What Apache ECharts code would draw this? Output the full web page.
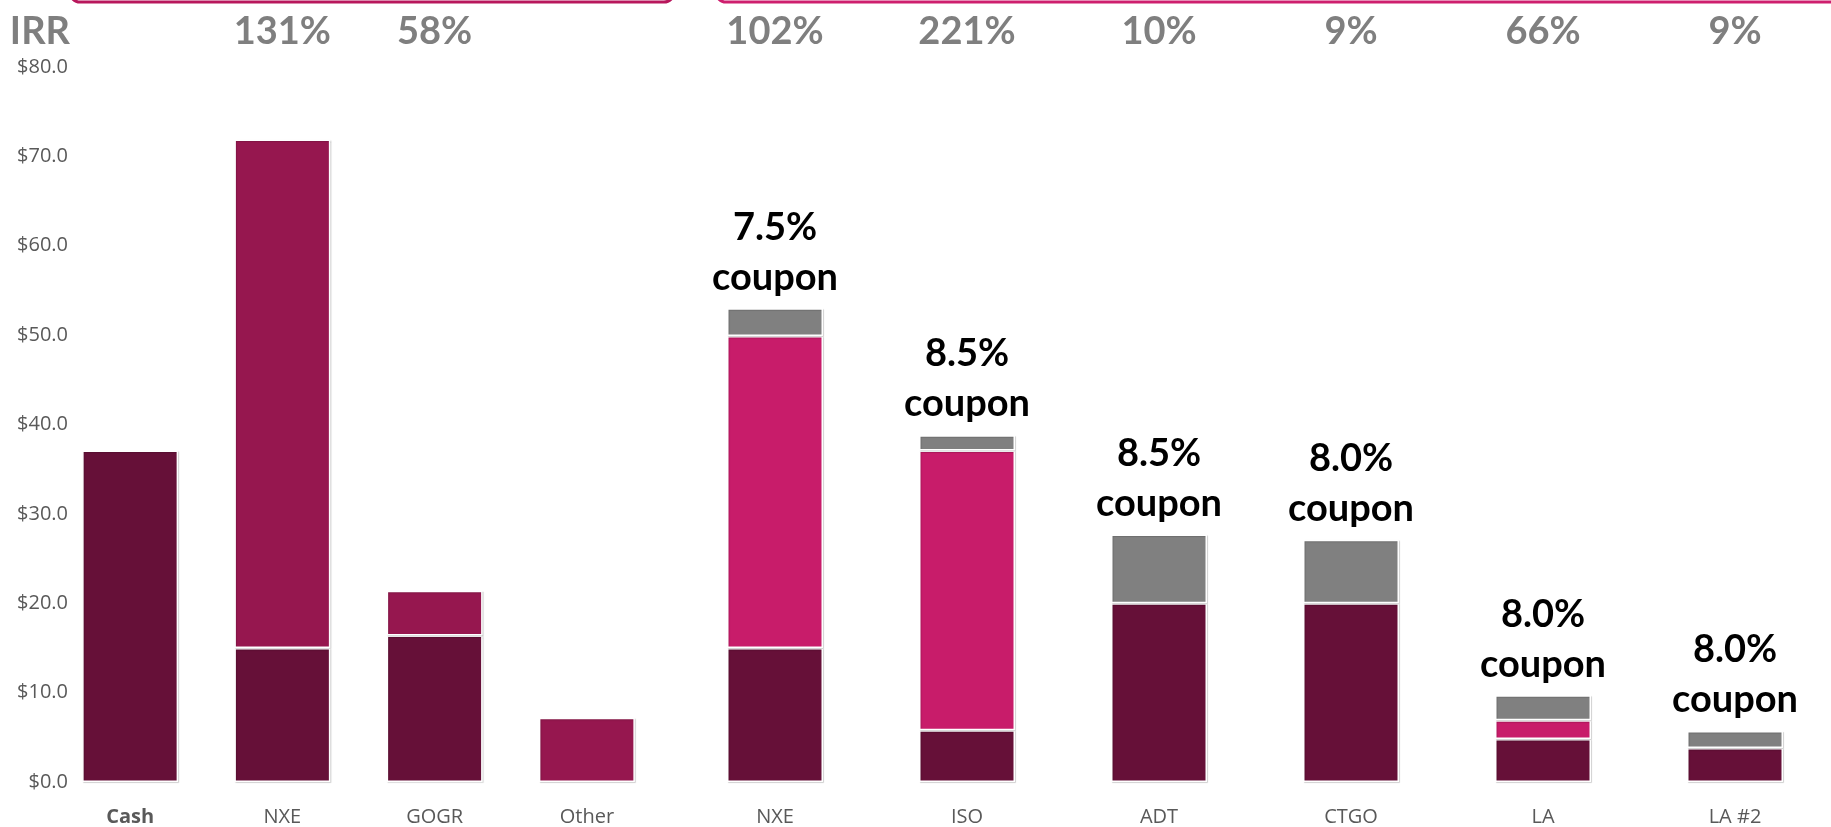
<!DOCTYPE html>
<html>
<head>
<meta charset="utf-8">
<script src="https://cdn.jsdelivr.net/npm/echarts@6/dist/echarts.min.js"></script>
<style>
html,body{margin:0;padding:0;background:#fff;}
#chart-panel{width:1831px;height:827px;}
</style>
</head>
<body>
<div id="chart-panel"></div>
<script>
// left block: current holdings
var leftNames = ['Cash', 'NXE', 'GOGR', 'Other'];
var leftIrr = ['', '131%', '58%', ''];
var leftBase = [37.1, 15.0, 16.4, '-'];
var leftGain = ['-', 56.9, 5.0, 7.2];

// right block: new deals
var rightNames = ['NXE', 'ISO', 'ADT', 'CTGO', 'LA', 'LA #2'];
var rightIrr = ['102%', '221%', '10%', '9%', '66%', '9%'];
var rightBase = [15.0, 5.8, 20.0, 20.0, 4.8, 3.8];
var rightEquity = [34.9, 31.3, '-', '-', 2.1, '-'];
var rightCoupon = [3.1, 1.7, 7.7, 7.1, 2.8, 1.9];
var coupons = ['7.5%', '8.5%', '8.5%', '8.0%', '8.0%', '8.0%'];

var yTicks = [0, 10, 20, 30, 40, 50, 60, 70, 80];

var dark = '#661038', mid = '#96174F', pink = '#C81C6A', grey = '#808080';
var axisFont = '"Open Sans", sans-serif';
var boldFont = 'Lato, "Open Sans", sans-serif';

var myChart = echarts.init(document.getElementById('chart-panel'));

var barStyle = function (c) {
	return {
		color: c,
		borderColor: '#fff',
		borderWidth: 1.5,
		shadowColor: 'rgba(0,0,0,0.15)',
		shadowBlur: 1,
		shadowOffsetX: 1,
		shadowOffsetY: 1
	};
};

var bottomAxis = function (names, grid) {
	return {
		type: 'category',
		gridIndex: grid,
		data: names,
		axisLine: {show: false},
		axisTick: {show: false},
		axisLabel: {
			interval: 0,
			margin: 25,
			fontFamily: axisFont,
			fontSize: 20,
			color: '#595959',
			formatter: function (v) {
				return v == 'Cash' ? '{b|' + v + '}' : v;
			},
			rich: {
				b: {fontFamily: axisFont, fontSize: 20, fontWeight: 'bold', color: '#595959'}
			}
		}
	};
};

var topAxis = function (names, irr, grid) {
	return {
		type: 'category',
		gridIndex: grid,
		position: 'top',
		data: names,
		axisLine: {show: false},
		axisTick: {show: false},
		axisLabel: {
			interval: 0,
			margin: 16,
			fontFamily: boldFont,
			fontSize: 38,
			fontWeight: 'bold',
			color: '#7F7F7F',
			formatter: function (v, i) {
				return irr[i];
			}
		}
	};
};

option = {
	backgroundColor: '#fff',
	animation: false,
	grid: [
		{left: 54, top: 67, width: 609, height: 716},
		{left: 679, top: 67, width: 1186, height: 716}
	],
	graphic: [
		{
			type: 'rect',
			shape: {x: 70, y: -40, width: 604, height: 42, r: 10},
			style: {fill: 'none', stroke: '#B8175C', lineWidth: 3}
		},
		{
			type: 'rect',
			shape: {x: 716, y: -40, width: 1200, height: 42, r: 10},
			style: {fill: 'none', stroke: '#CE1F6E', lineWidth: 3}
		}
	],
	xAxis: [
		bottomAxis(leftNames, 0),
		topAxis(leftNames, leftIrr, 0),
		bottomAxis(rightNames, 1),
		topAxis(rightNames, rightIrr, 1)
	],
	yAxis: [
		{
			type: 'value',
			gridIndex: 0,
			min: yTicks[0],
			max: yTicks[yTicks.length - 1],
			interval: 10,
			offset: -14,
			name: 'IRR',
			nameLocation: 'end',
			nameGap: 16,
			nameTextStyle: {
				fontFamily: boldFont,
				fontSize: 38,
				fontWeight: 'bold',
				color: '#7F7F7F',
				align: 'right',
				padding: [0, -2, 0, 0]
			},
			splitLine: {show: false},
			axisLine: {show: false},
			axisTick: {show: false},
			axisLabel: {
				margin: 0,
				fontFamily: axisFont,
				fontSize: 20,
				color: '#595959',
				formatter: function (v) {
					return '$' + v.toFixed(1);
				}
			}
		},
		{
			type: 'value',
			gridIndex: 1,
			min: yTicks[0],
			max: yTicks[yTicks.length - 1],
			interval: 10,
			show: false,
			splitLine: {show: false}
		}
	],
	series: [
		{
			name: 'Base',
			type: 'bar',
			stack: 'L',
			xAxisIndex: 0,
			yAxisIndex: 0,
			barWidth: 96,
			itemStyle: barStyle(dark),
			data: leftBase
		},
		{
			name: 'Gain',
			type: 'bar',
			stack: 'L',
			xAxisIndex: 0,
			yAxisIndex: 0,
			barWidth: 96,
			itemStyle: barStyle(mid),
			data: leftGain
		},
		{
			name: 'Principal',
			type: 'bar',
			stack: 'R',
			xAxisIndex: 2,
			yAxisIndex: 1,
			barWidth: 96,
			itemStyle: barStyle(dark),
			data: rightBase
		},
		{
			name: 'Equity',
			type: 'bar',
			stack: 'R',
			xAxisIndex: 2,
			yAxisIndex: 1,
			barWidth: 96,
			itemStyle: barStyle(pink),
			data: rightEquity
		},
		{
			name: 'Coupon',
			type: 'bar',
			stack: 'R',
			xAxisIndex: 2,
			yAxisIndex: 1,
			barWidth: 96,
			itemStyle: barStyle(grey),
			label: {
				show: true,
				position: 'top',
				distance: 6,
				fontFamily: boldFont,
				fontSize: 38,
				fontWeight: 'bold',
				lineHeight: 50,
				color: '#000',
				formatter: function (p) {
					return coupons[p.dataIndex] + '\ncoupon';
				}
			},
			data: rightCoupon
		}
	]
};
myChart.setOption(option);
</script>
</body>
</html>
